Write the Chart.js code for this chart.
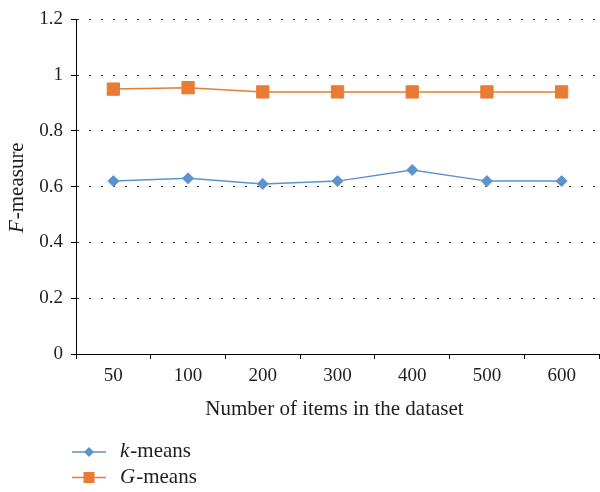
<!DOCTYPE html>
<html>
<head>
<meta charset="utf-8">
<script src="https://cdn.jsdelivr.net/npm/chart.js@4/dist/chart.umd.min.js"></script>
<style>
  html, body { margin: 0; padding: 0; background: #fff; }
  #wrap { width: 600px; height: 492px; position: relative; }
</style>
</head>
<body>
<div id="wrap"><canvas id="c" width="600" height="492"></canvas></div>
<script>
// Dataset sizes along the x axis
const categories = ['50', '100', '200', '300', '400', '500', '600'];

// F-measure per dataset size
const kMeans = [0.62, 0.63, 0.61, 0.62, 0.66, 0.62, 0.62];
const gMeans = [0.95, 0.955, 0.94, 0.94, 0.94, 0.94, 0.94];

// Series names: first letter is set in italics
const seriesNames = ['k-means', 'G-means'];

// Y axis ticks
const yTicks = [0, 0.2, 0.4, 0.6, 0.8, 1, 1.2];
const yTickLabels = ['0', '0.2', '0.4', '0.6', '0.8', '1', '1.2'];

const xTitle = 'Number of items in the dataset';
const yTitleItalic = 'F';
const yTitleRest = '-measure';

const BLUE = '#5b93cf';
const ORANGE = '#e97b35';
const TEXT = '#1e1e1e';
const FONT = '"Liberation Serif", "DejaVu Serif", serif';
const TITLE_SIZE = 21;
const TICK_SIZE = 19;

// Draw "<italic part><rest>" on the alphabetic baseline y
function mixedText(ctx, italicPart, rest, x, y, align) {
  ctx.font = 'italic ' + TITLE_SIZE + 'px ' + FONT;
  const w1 = ctx.measureText(italicPart).width;
  ctx.font = TITLE_SIZE + 'px ' + FONT;
  const w2 = ctx.measureText(rest).width;
  let start = x;
  if (align === 'center') start = x - (w1 + w2 + 1) / 2;
  ctx.textBaseline = 'alphabetic';
  ctx.textAlign = 'left';
  ctx.font = 'italic ' + TITLE_SIZE + 'px ' + FONT;
  ctx.fillText(italicPart, start, y);
  ctx.font = TITLE_SIZE + 'px ' + FONT;
  ctx.fillText(rest, start + w1 + 1, y);
}

const annotations = {
  id: 'annotations',
  afterDraw(chart) {
    const ctx = chart.ctx;
    const area = chart.chartArea;
    ctx.save();
    ctx.fillStyle = TEXT;

    // x axis title
    ctx.font = TITLE_SIZE + 'px ' + FONT;
    ctx.textAlign = 'center';
    ctx.textBaseline = 'alphabetic';
    ctx.fillText(xTitle, (area.left + area.right) / 2 - 3, 415);

    // y axis title, rotated
    ctx.save();
    ctx.translate(23, (area.top + area.bottom) / 2 + 1);
    ctx.rotate(-Math.PI / 2);
    mixedText(ctx, yTitleItalic, yTitleRest, 0, 0, 'center');
    ctx.restore();

    // legend below the chart
    chart.data.datasets.forEach((ds, i) => {
      const y = 452 + i * 25.5;
      ctx.strokeStyle = ds.borderColor;
      ctx.lineWidth = 1.5;
      ctx.beginPath();
      ctx.moveTo(72, y);
      ctx.lineTo(106, y);
      ctx.stroke();
      ctx.fillStyle = ds.borderColor;
      ctx.beginPath();
      if (ds.pointStyle === 'rectRot') {
        const r = 5;
        ctx.moveTo(89 - r, y);
        ctx.lineTo(89, y - r);
        ctx.lineTo(89 + r, y);
        ctx.lineTo(89, y + r);
        ctx.closePath();
      } else {
        ctx.rect(89 - 5.5, y - 5.5, 11, 11);
      }
      ctx.fill();
      ctx.fillStyle = TEXT;
      const name = ds.label;
      mixedText(ctx, name.charAt(0), name.slice(1), 120, y + 5, 'left');
    });
    ctx.restore();
  }
};

new Chart(document.getElementById('c'), {
  type: 'line',
  data: {
    labels: categories,
    datasets: [
      {
        label: seriesNames[0],
        data: kMeans,
        borderColor: BLUE,
        backgroundColor: BLUE,
        borderWidth: 1.5,
        pointStyle: 'rectRot',
        pointRadius: 5.5,
        pointHoverRadius: 5.5,
        pointBorderWidth: 1,
        pointBackgroundColor: BLUE,
        pointBorderColor: BLUE,
        tension: 0
      },
      {
        label: seriesNames[1],
        data: gMeans,
        borderColor: ORANGE,
        backgroundColor: ORANGE,
        borderWidth: 1.5,
        pointStyle: 'rect',
        pointRadius: 8.7,
        pointHoverRadius: 8.7,
        pointBorderWidth: 1,
        pointBackgroundColor: ORANGE,
        pointBorderColor: ORANGE,
        tension: 0
      }
    ]
  },
  options: {
    responsive: false,
    animation: false,
    events: [],
    layout: { autoPadding: false, padding: { top: 13, right: 1, bottom: 0, left: 0 } },
    plugins: {
      legend: { display: false },
      tooltip: { enabled: false },
      title: { display: false }
    },
    scales: {
      x: {
        type: 'category',
        offset: true,
        afterFit(scale) { scale.height = 138; },
        grid: {
          offset: true,
          drawOnChartArea: false,
          drawTicks: true,
          tickLength: 5,
          tickColor: '#000',
          tickWidth: 1
        },
        border: { display: true, color: '#000', width: 1 },
        ticks: {
          color: TEXT,
          padding: 6,
          font: { family: FONT, size: TICK_SIZE }
        }
      },
      y: {
        min: 0,
        max: 1.2,
        afterFit(scale) { scale.width = 76; },
        afterBuildTicks(scale) {
          scale.ticks = yTicks.map(v => ({ value: v }));
        },
        grid: {
          color: '#333',
          lineWidth: 1,
          drawTicks: true,
          tickLength: 5,
          tickColor: '#000',
          tickWidth: 1,
          tickBorderDash: []
        },
        border: { display: true, color: '#000', width: 1, dash: [2, 10], dashOffset: 0 },
        ticks: {
          color: TEXT,
          padding: 8,
          font: { family: FONT, size: TICK_SIZE }
        },
        afterTickToLabelConversion(scale) {
          scale.ticks.forEach(t => {
            const i = yTicks.indexOf(t.value);
            t.label = i >= 0 ? yTickLabels[i] : '';
          });
        }
      }
    }
  },
  plugins: [annotations]
});
</script>
</body>
</html>
